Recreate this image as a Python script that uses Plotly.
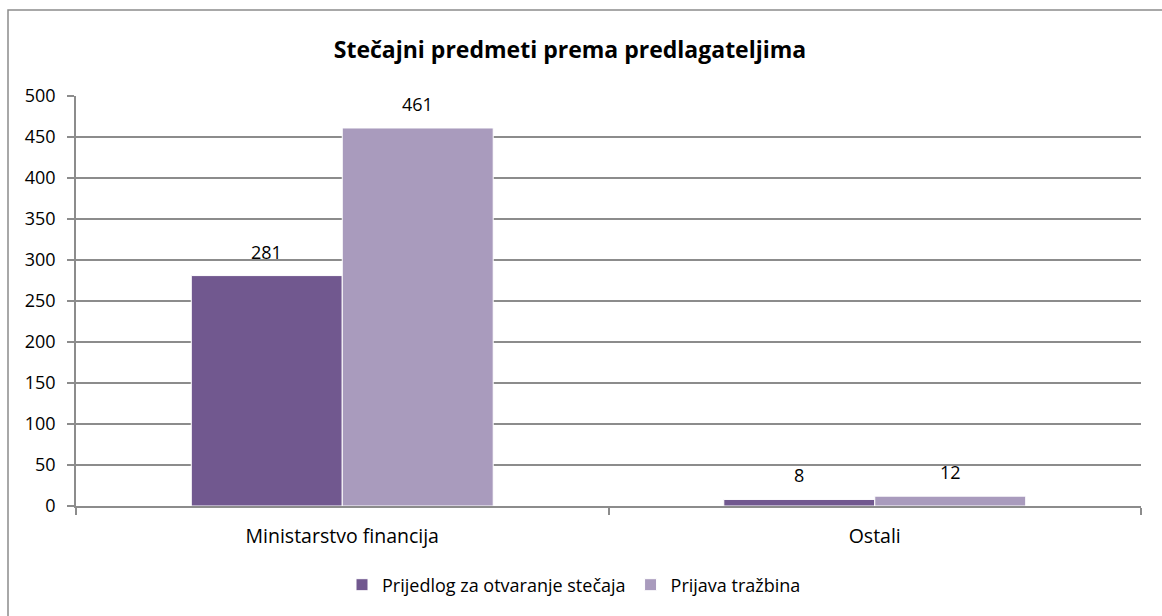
import plotly.graph_objects as go

# Stečajni predmeti po predlagateljima
categories = ["Ministarstvo financija", "Ostali"]
series_names = ["Prijedlog za otvaranje stečaja", "Prijava tražbina"]
prijedlog = [281, 8]
prijava = [461, 12]
y_ticks = list(range(0, 501, 50))

colors = ["#71588F", "#A99BBD"]
font_family = "'Open Sans', Lato, sans-serif"
grid_col = "#8C8C8C"
fs = 18

fig = go.Figure()
for name, vals, col in zip(series_names, [prijedlog, prijava], colors):
    fig.add_trace(go.Bar(
        x=categories, y=vals, name=name,
        marker=dict(color=col, line=dict(color="white", width=1)),
        hoverinfo="skip",
    ))

# value labels above each bar
bar_px = 151
for i, vals in enumerate([prijedlog, prijava]):
    shift = (-0.5 if i == 0 else 0.5) * bar_px
    for cat, v in zip(categories, vals):
        fig.add_annotation(
            x=cat, y=v, text=str(v), showarrow=False,
            xshift=shift, yshift=24, yanchor="middle",
            font=dict(size=fs, color="#000000", family=font_family),
        )

# chart frame
L, R, T, B = 76, 21, 96, 110
W, H = 1162, 616
pw, ph = W - L - R, H - T - B
def px_x(p):
    return (p - L) / pw
def px_y(p):
    return (H - B - p) / ph

fig.add_shape(type="rect", xref="paper", yref="paper",
              x0=px_x(8), x1=px_x(1175), y0=px_y(10), y1=px_y(640),
              line=dict(color="#8C8C8C", width=1.5), fillcolor="rgba(0,0,0,0)",
              layer="below")

fig.update_layout(
    width=W, height=H,
    margin=dict(l=L, r=R, t=T, b=B),
    paper_bgcolor="white", plot_bgcolor="white",
    barmode="group", bargap=0.433, bargroupgap=0.0,
    title=dict(text="<b>Stečajni predmeti prema predlagateljima</b>",
               x=570 / W, xanchor="center",
               y=1 - 50 / H, yanchor="middle",
               font=dict(size=23, color="#000000", family=font_family)),
    font=dict(family=font_family, size=fs, color="#000000"),
    showlegend=True,
    legend=dict(orientation="h", x=px_x(574), xanchor="center",
                y=px_y(585), yanchor="middle",
                font=dict(size=fs, family=font_family),
                itemwidth=30, tracegroupgap=0),
    xaxis=dict(
        showline=True, linecolor=grid_col, linewidth=1.5,
        ticks="outside", tickson="boundaries", ticklen=7,
        tickcolor=grid_col, tickwidth=1.5,
        showgrid=False, tickfont=dict(size=19.5), ticklabelstandoff=12,
    ),
    yaxis=dict(
        range=[0, 500], tickvals=y_ticks,
        showline=True, linecolor=grid_col, linewidth=1.5,
        ticks="outside", ticklen=7, tickcolor=grid_col, tickwidth=1.5,
        showgrid=True, gridcolor=grid_col, gridwidth=1.5,
        zeroline=False, tickfont=dict(size=fs), ticklabelstandoff=8,
    ),
)

fig.write_html("out.html")
